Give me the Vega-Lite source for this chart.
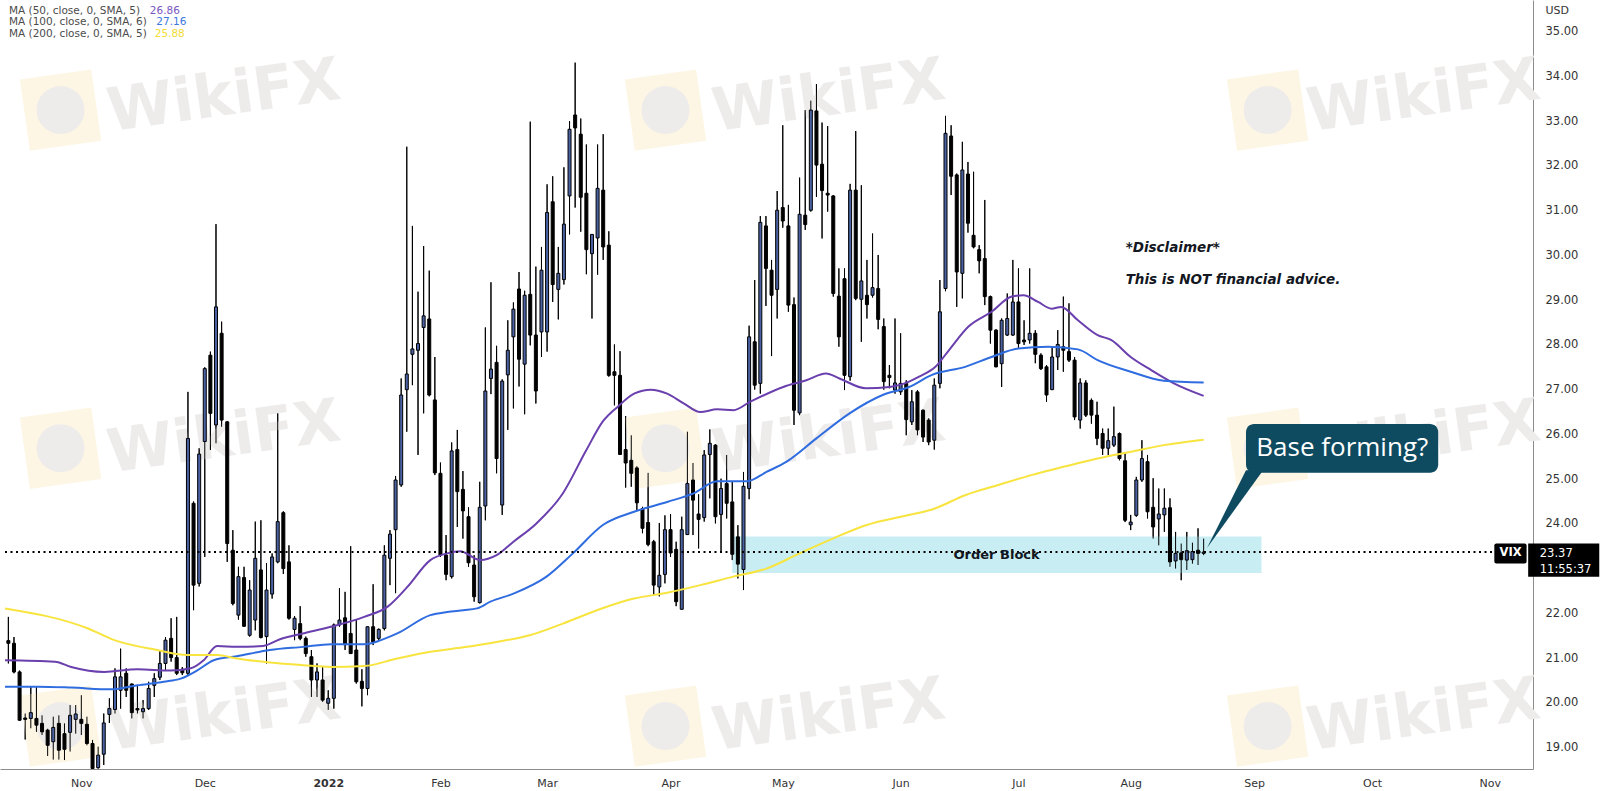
{
"$schema":"https://vega.github.io/schema/vega-lite/v6.json",
"width":1533,"height":769,
"autosize":{"type":"none"},
"padding":{"left":0,"top":0,"right":72,"bottom":22},
"background":"#ffffff",
"config":{"view":{"stroke":null},"font":"DejaVu Sans"},
"datasets":{
"candles":[
{"i":-13,"o":21.39,"h":21.92,"l":20.88,"c":21.33},
{"i":-12,"o":21.33,"h":21.47,"l":20.66,"c":20.69},
{"i":-11,"o":20.69,"h":20.72,"l":19.60,"c":19.61},
{"i":-10,"o":19.66,"h":19.76,"l":19.18,"c":19.63},
{"i":-9,"o":19.65,"h":20.36,"l":19.43,"c":19.78},
{"i":-8,"o":19.65,"h":20.36,"l":19.35,"c":19.50},
{"i":-7,"o":19.54,"h":19.72,"l":19.28,"c":19.35},
{"i":-6,"o":19.39,"h":19.42,"l":18.81,"c":19.05},
{"i":-5,"o":19.13,"h":19.69,"l":18.73,"c":19.45},
{"i":-4,"o":19.54,"h":19.72,"l":18.73,"c":18.94},
{"i":-3,"o":19.31,"h":19.54,"l":18.72,"c":18.96},
{"i":-2,"o":19.34,"h":19.95,"l":18.91,"c":19.72},
{"i":-1,"o":19.63,"h":19.95,"l":19.31,"c":19.75},
{"i":0,"o":19.63,"h":20.17,"l":19.28,"c":19.54},
{"i":1,"o":19.52,"h":19.69,"l":19.05,"c":19.09},
{"i":2,"o":19.09,"h":19.17,"l":18.50,"c":18.53},
{"i":3,"o":18.55,"h":19.02,"l":18.53,"c":18.83},
{"i":4,"o":18.85,"h":19.76,"l":18.61,"c":19.55},
{"i":5,"o":19.74,"h":20.10,"l":19.55,"c":19.87},
{"i":6,"o":19.85,"h":20.77,"l":19.76,"c":20.58},
{"i":7,"o":20.28,"h":21.21,"l":19.87,"c":20.58},
{"i":8,"o":20.66,"h":20.77,"l":20.13,"c":20.28},
{"i":9,"o":20.42,"h":20.43,"l":19.65,"c":19.78},
{"i":10,"o":19.87,"h":20.40,"l":19.76,"c":19.84},
{"i":11,"o":19.80,"h":20.06,"l":19.65,"c":19.87},
{"i":12,"o":19.87,"h":20.47,"l":19.84,"c":20.32},
{"i":13,"o":20.39,"h":20.66,"l":20.13,"c":20.54},
{"i":14,"o":20.57,"h":21.18,"l":20.51,"c":20.88},
{"i":15,"o":20.88,"h":21.47,"l":20.72,"c":21.40},
{"i":16,"o":21.44,"h":21.89,"l":20.92,"c":21.01},
{"i":17,"o":21.01,"h":21.92,"l":20.62,"c":20.66},
{"i":18,"o":20.75,"h":20.80,"l":20.62,"c":20.67},
{"i":19,"o":20.66,"h":26.95,"l":20.62,"c":25.91},
{"i":20,"o":24.46,"h":24.50,"l":22.07,"c":22.63},
{"i":21,"o":22.67,"h":25.69,"l":22.60,"c":25.56},
{"i":22,"o":25.84,"h":27.50,"l":23.26,"c":27.47},
{"i":23,"o":27.77,"h":27.85,"l":25.65,"c":26.47},
{"i":24,"o":26.21,"h":30.70,"l":25.80,"c":28.85},
{"i":25,"o":28.26,"h":28.52,"l":26.17,"c":26.32},
{"i":26,"o":26.28,"h":26.30,"l":23.15,"c":23.56},
{"i":27,"o":23.41,"h":23.86,"l":22.18,"c":22.22},
{"i":28,"o":21.96,"h":23.04,"l":21.86,"c":22.82},
{"i":29,"o":22.80,"h":23.04,"l":21.70,"c":21.71},
{"i":30,"o":21.51,"h":22.74,"l":21.48,"c":22.52},
{"i":31,"o":21.85,"h":24.05,"l":21.62,"c":23.23},
{"i":32,"o":22.97,"h":24.08,"l":21.44,"c":21.46},
{"i":33,"o":21.48,"h":23.12,"l":20.88,"c":22.52},
{"i":34,"o":22.43,"h":23.34,"l":22.33,"c":23.26},
{"i":35,"o":23.15,"h":26.47,"l":23.12,"c":24.05},
{"i":36,"o":24.25,"h":24.28,"l":22.88,"c":23.00},
{"i":37,"o":23.15,"h":23.52,"l":21.86,"c":21.89},
{"i":38,"o":21.64,"h":21.94,"l":21.40,"c":21.89},
{"i":39,"o":21.77,"h":22.16,"l":21.40,"c":21.44},
{"i":40,"o":21.44,"h":21.48,"l":21.03,"c":21.10},
{"i":41,"o":21.03,"h":21.18,"l":20.13,"c":20.51},
{"i":42,"o":20.51,"h":20.88,"l":20.13,"c":20.69},
{"i":43,"o":20.51,"h":20.80,"l":20.02,"c":20.06},
{"i":44,"o":19.99,"h":20.28,"l":19.84,"c":20.10},
{"i":45,"o":20.10,"h":21.77,"l":19.87,"c":21.74},
{"i":46,"o":21.74,"h":22.56,"l":21.70,"c":21.85},
{"i":47,"o":21.90,"h":22.48,"l":21.18,"c":21.30},
{"i":48,"o":21.55,"h":23.50,"l":21.10,"c":21.10},
{"i":49,"o":21.18,"h":21.85,"l":20.43,"c":20.47},
{"i":50,"o":20.48,"h":20.75,"l":19.92,"c":20.32},
{"i":51,"o":20.32,"h":21.70,"l":20.17,"c":21.70},
{"i":52,"o":21.70,"h":22.65,"l":21.29,"c":21.36},
{"i":53,"o":21.44,"h":21.66,"l":21.40,"c":21.64},
{"i":54,"o":21.66,"h":23.52,"l":21.62,"c":23.30},
{"i":55,"o":23.23,"h":23.86,"l":22.63,"c":23.77},
{"i":56,"o":23.87,"h":25.07,"l":22.45,"c":24.98},
{"i":57,"o":24.87,"h":27.25,"l":24.83,"c":26.88},
{"i":58,"o":27.00,"h":32.43,"l":26.06,"c":27.35},
{"i":59,"o":27.79,"h":30.66,"l":27.10,"c":27.91},
{"i":60,"o":27.88,"h":29.19,"l":25.54,"c":28.03},
{"i":61,"o":28.39,"h":30.21,"l":26.47,"c":28.65},
{"i":62,"o":28.58,"h":29.66,"l":26.85,"c":26.88},
{"i":63,"o":26.77,"h":27.73,"l":25.09,"c":25.14},
{"i":64,"o":25.13,"h":25.37,"l":23.26,"c":23.30},
{"i":65,"o":23.30,"h":23.75,"l":22.74,"c":22.87},
{"i":66,"o":22.82,"h":25.82,"l":22.78,"c":25.63},
{"i":67,"o":25.66,"h":26.10,"l":23.93,"c":24.72},
{"i":68,"o":24.77,"h":25.18,"l":23.67,"c":24.29},
{"i":69,"o":24.16,"h":24.37,"l":23.04,"c":23.13},
{"i":70,"o":23.08,"h":23.30,"l":22.26,"c":22.37},
{"i":71,"o":22.24,"h":24.94,"l":22.22,"c":24.37},
{"i":72,"o":24.40,"h":28.39,"l":24.08,"c":26.97},
{"i":73,"o":27.25,"h":29.40,"l":26.90,"c":27.46},
{"i":74,"o":27.61,"h":27.98,"l":25.13,"c":25.46},
{"i":75,"o":24.42,"h":27.23,"l":24.20,"c":27.19},
{"i":76,"o":27.33,"h":28.55,"l":26.10,"c":27.88},
{"i":77,"o":28.18,"h":28.95,"l":26.58,"c":28.80},
{"i":78,"o":29.25,"h":29.63,"l":27.07,"c":27.68},
{"i":79,"o":27.57,"h":29.21,"l":26.45,"c":29.11},
{"i":80,"o":29.13,"h":32.99,"l":27.99,"c":28.22},
{"i":81,"o":28.22,"h":29.75,"l":26.69,"c":26.97},
{"i":82,"o":28.29,"h":30.19,"l":27.73,"c":29.67},
{"i":83,"o":28.29,"h":31.59,"l":27.85,"c":30.96},
{"i":84,"o":31.20,"h":31.77,"l":28.96,"c":29.35},
{"i":85,"o":29.24,"h":30.19,"l":28.57,"c":29.60},
{"i":86,"o":29.46,"h":31.97,"l":29.35,"c":30.70},
{"i":87,"o":31.33,"h":33.00,"l":30.47,"c":32.82},
{"i":88,"o":33.14,"h":34.31,"l":31.07,"c":32.85},
{"i":89,"o":32.71,"h":33.06,"l":30.53,"c":31.30},
{"i":90,"o":31.39,"h":32.48,"l":29.58,"c":30.13},
{"i":91,"o":30.04,"h":30.47,"l":28.59,"c":30.47},
{"i":92,"o":30.39,"h":32.48,"l":29.57,"c":31.50},
{"i":93,"o":31.46,"h":32.71,"l":29.90,"c":30.19},
{"i":94,"o":30.23,"h":30.54,"l":27.29,"c":27.32},
{"i":95,"o":27.40,"h":28.01,"l":26.65,"c":27.32},
{"i":96,"o":27.32,"h":27.86,"l":25.55,"c":25.55},
{"i":97,"o":25.66,"h":26.41,"l":24.81,"c":25.36},
{"i":98,"o":25.42,"h":25.98,"l":24.83,"c":25.13},
{"i":99,"o":25.25,"h":25.29,"l":24.31,"c":24.47},
{"i":100,"o":24.34,"h":24.38,"l":23.79,"c":23.90},
{"i":101,"o":24.03,"h":25.14,"l":23.50,"c":23.54},
{"i":102,"o":23.60,"h":23.64,"l":22.41,"c":22.63},
{"i":103,"o":22.59,"h":24.02,"l":22.38,"c":22.85},
{"i":104,"o":22.87,"h":24.19,"l":22.67,"c":23.87},
{"i":105,"o":23.87,"h":24.22,"l":23.26,"c":23.35},
{"i":106,"o":23.43,"h":23.60,"l":22.16,"c":22.26},
{"i":107,"o":22.09,"h":24.16,"l":22.09,"c":23.87},
{"i":108,"o":23.76,"h":26.06,"l":23.76,"c":24.90},
{"i":109,"o":24.98,"h":25.36,"l":23.75,"c":24.53},
{"i":110,"o":24.22,"h":24.66,"l":23.45,"c":24.10},
{"i":111,"o":24.14,"h":25.65,"l":24.05,"c":25.54},
{"i":112,"o":25.55,"h":26.11,"l":24.57,"c":25.80},
{"i":113,"o":25.76,"h":25.78,"l":24.01,"c":24.16},
{"i":114,"o":24.21,"h":25.01,"l":23.39,"c":24.79},
{"i":115,"o":24.90,"h":25.54,"l":24.12,"c":24.46},
{"i":116,"o":24.49,"h":24.94,"l":23.19,"c":23.32},
{"i":117,"o":23.71,"h":23.97,"l":22.78,"c":23.10},
{"i":118,"o":22.98,"h":25.16,"l":22.52,"c":24.84},
{"i":119,"o":24.79,"h":28.43,"l":24.55,"c":28.18},
{"i":120,"o":28.07,"h":29.45,"l":27.00,"c":27.10},
{"i":121,"o":27.14,"h":30.88,"l":26.91,"c":30.74},
{"i":122,"o":30.66,"h":30.88,"l":28.87,"c":29.71},
{"i":123,"o":29.67,"h":29.90,"l":27.75,"c":29.11},
{"i":124,"o":29.24,"h":31.44,"l":28.59,"c":31.01},
{"i":125,"o":31.07,"h":32.91,"l":30.62,"c":30.77},
{"i":126,"o":30.66,"h":31.13,"l":28.74,"c":28.89},
{"i":127,"o":28.90,"h":29.06,"l":26.21,"c":26.54},
{"i":128,"o":26.48,"h":31.74,"l":26.43,"c":30.92},
{"i":129,"o":30.90,"h":33.25,"l":30.57,"c":30.69},
{"i":130,"o":31.01,"h":33.46,"l":30.98,"c":33.25},
{"i":131,"o":33.23,"h":33.83,"l":31.31,"c":32.02},
{"i":132,"o":32.04,"h":32.97,"l":30.38,"c":31.45},
{"i":133,"o":31.39,"h":32.89,"l":30.98,"c":31.35},
{"i":134,"o":31.33,"h":31.35,"l":29.08,"c":29.15},
{"i":135,"o":29.09,"h":29.71,"l":27.96,"c":28.18},
{"i":136,"o":29.48,"h":29.71,"l":26.99,"c":27.32},
{"i":137,"o":27.29,"h":31.60,"l":27.20,"c":31.46},
{"i":138,"o":31.46,"h":32.78,"l":29.00,"c":29.04},
{"i":139,"o":29.02,"h":31.57,"l":28.07,"c":29.43},
{"i":140,"o":29.11,"h":29.90,"l":28.59,"c":28.90},
{"i":141,"o":29.11,"h":30.49,"l":29.06,"c":29.28},
{"i":142,"o":29.26,"h":30.01,"l":28.35,"c":28.57},
{"i":143,"o":28.41,"h":28.59,"l":27.00,"c":27.18},
{"i":144,"o":27.32,"h":27.55,"l":27.03,"c":27.27},
{"i":145,"o":26.99,"h":28.59,"l":26.91,"c":27.15},
{"i":146,"o":26.95,"h":28.26,"l":26.88,"c":27.14},
{"i":147,"o":27.14,"h":27.21,"l":25.98,"c":26.33},
{"i":148,"o":26.28,"h":26.99,"l":26.21,"c":26.73},
{"i":149,"o":26.95,"h":26.99,"l":25.98,"c":26.10},
{"i":150,"o":26.54,"h":26.56,"l":25.83,"c":25.94},
{"i":151,"o":26.32,"h":26.36,"l":25.76,"c":25.83},
{"i":152,"o":25.87,"h":27.25,"l":25.66,"c":27.10},
{"i":153,"o":27.14,"h":29.45,"l":27.03,"c":28.74},
{"i":154,"o":29.26,"h":33.12,"l":29.20,"c":32.73},
{"i":155,"o":32.67,"h":32.91,"l":31.35,"c":31.77},
{"i":156,"o":31.80,"h":31.83,"l":28.85,"c":29.63},
{"i":157,"o":29.60,"h":32.54,"l":29.04,"c":31.91},
{"i":158,"o":31.82,"h":32.09,"l":30.51,"c":30.72},
{"i":159,"o":30.45,"h":31.87,"l":30.16,"c":30.19},
{"i":160,"o":30.13,"h":30.23,"l":29.60,"c":29.88},
{"i":161,"o":29.93,"h":31.24,"l":28.89,"c":29.08},
{"i":162,"o":29.08,"h":29.10,"l":28.03,"c":28.33},
{"i":163,"o":28.33,"h":28.35,"l":27.50,"c":27.51},
{"i":164,"o":27.58,"h":28.59,"l":27.06,"c":28.55},
{"i":165,"o":28.22,"h":29.15,"l":28.20,"c":28.59},
{"i":166,"o":28.22,"h":29.90,"l":28.20,"c":28.96},
{"i":167,"o":28.96,"h":29.71,"l":27.92,"c":28.03},
{"i":168,"o":28.11,"h":28.55,"l":28.00,"c":28.07},
{"i":169,"o":28.11,"h":29.71,"l":28.03,"c":28.26},
{"i":170,"o":28.26,"h":28.33,"l":27.59,"c":27.79},
{"i":171,"o":27.77,"h":27.81,"l":27.44,"c":27.47},
{"i":172,"o":27.51,"h":27.55,"l":26.73,"c":26.88},
{"i":173,"o":27.00,"h":27.96,"l":26.99,"c":27.73},
{"i":174,"o":27.73,"h":28.33,"l":27.44,"c":28.01},
{"i":175,"o":27.96,"h":29.08,"l":27.40,"c":27.88},
{"i":176,"o":27.85,"h":28.93,"l":27.62,"c":27.66},
{"i":177,"o":27.66,"h":27.73,"l":26.32,"c":26.39},
{"i":178,"o":26.32,"h":27.25,"l":26.13,"c":27.15},
{"i":179,"o":27.15,"h":27.21,"l":26.39,"c":26.43},
{"i":180,"o":26.76,"h":26.80,"l":26.24,"c":26.43},
{"i":181,"o":26.43,"h":26.73,"l":25.76,"c":25.91},
{"i":182,"o":26.02,"h":26.13,"l":25.54,"c":25.69},
{"i":183,"o":25.69,"h":26.13,"l":25.54,"c":25.86},
{"i":184,"o":25.76,"h":26.62,"l":25.72,"c":25.95},
{"i":185,"o":26.02,"h":26.04,"l":25.42,"c":25.46},
{"i":186,"o":25.41,"h":25.57,"l":24.04,"c":24.08},
{"i":187,"o":23.98,"h":24.20,"l":23.86,"c":24.04},
{"i":188,"o":24.19,"h":25.05,"l":24.16,"c":24.98},
{"i":189,"o":24.98,"h":25.87,"l":24.94,"c":25.46},
{"i":190,"o":25.39,"h":25.54,"l":24.12,"c":24.27},
{"i":191,"o":24.37,"h":25.02,"l":23.67,"c":23.93},
{"i":192,"o":24.11,"h":24.79,"l":23.52,"c":24.22},
{"i":193,"o":24.20,"h":24.79,"l":23.82,"c":24.35},
{"i":194,"o":24.36,"h":24.57,"l":23.04,"c":23.15},
{"i":195,"o":23.17,"h":23.82,"l":23.00,"c":23.34},
{"i":196,"o":23.35,"h":23.56,"l":22.74,"c":23.20},
{"i":197,"o":23.19,"h":23.82,"l":22.97,"c":23.40},
{"i":198,"o":23.20,"h":23.58,"l":23.11,"c":23.38},
{"i":199,"o":23.41,"h":23.90,"l":23.08,"c":23.34},
{"i":200,"o":23.34,"h":23.67,"l":23.30,"c":23.37}
],
"ma":[
{"ma":"MA50","i":-13.6,"v":20.95},{"ma":"MA50","i":-4.7,"v":20.92},{"ma":"MA50","i":-1.8,"v":20.80},{"ma":"MA50","i":4.1,"v":20.69},{"ma":"MA50","i":10.0,"v":20.75},{"ma":"MA50","i":15.9,"v":20.72},{"ma":"MA50","i":19.5,"v":20.77},{"ma":"MA50","i":21.8,"v":20.95},{"ma":"MA50","i":24.2,"v":21.27},{"ma":"MA50","i":27.7,"v":21.25},{"ma":"MA50","i":32.4,"v":21.27},{"ma":"MA50","i":35.4,"v":21.42},{"ma":"MA50","i":39.5,"v":21.55},{"ma":"MA50","i":44.5,"v":21.70},{"ma":"MA50","i":50.4,"v":21.92},{"ma":"MA50","i":54.6,"v":22.15},{"ma":"MA50","i":58.1,"v":22.59},{"ma":"MA50","i":62.2,"v":23.19},{"ma":"MA50","i":65.2,"v":23.34},{"ma":"MA50","i":67.5,"v":23.39},{"ma":"MA50","i":71.1,"v":23.19},{"ma":"MA50","i":74.0,"v":23.30},{"ma":"MA50","i":77.0,"v":23.60},{"ma":"MA50","i":81.1,"v":24.01},{"ma":"MA50","i":85.8,"v":24.68},{"ma":"MA50","i":90.0,"v":25.65},{"ma":"MA50","i":93.0,"v":26.30},{"ma":"MA50","i":95.6,"v":26.62},{"ma":"MA50","i":98.5,"v":26.91},{"ma":"MA50","i":101.5,"v":27.00},{"ma":"MA50","i":104.4,"v":26.91},{"ma":"MA50","i":107.4,"v":26.69},{"ma":"MA50","i":110.3,"v":26.50},{"ma":"MA50","i":113.3,"v":26.56},{"ma":"MA50","i":116.2,"v":26.54},{"ma":"MA50","i":119.2,"v":26.73},{"ma":"MA50","i":125.1,"v":27.06},{"ma":"MA50","i":129.2,"v":27.21},{"ma":"MA50","i":132.7,"v":27.36},{"ma":"MA50","i":135.1,"v":27.25},{"ma":"MA50","i":139.8,"v":27.03},{"ma":"MA50","i":144.0,"v":27.06},{"ma":"MA50","i":147.5,"v":27.18},{"ma":"MA50","i":149.3,"v":27.29},{"ma":"MA50","i":152.2,"v":27.51},{"ma":"MA50","i":154.6,"v":27.88},{"ma":"MA50","i":158.1,"v":28.41},{"ma":"MA50","i":162.2,"v":28.74},{"ma":"MA50","i":165.8,"v":29.08},{"ma":"MA50","i":167.9,"v":29.11},{"ma":"MA50","i":170.5,"v":28.96},{"ma":"MA50","i":172.9,"v":28.81},{"ma":"MA50","i":174.6,"v":28.85},{"ma":"MA50","i":177.6,"v":28.55},{"ma":"MA50","i":181.1,"v":28.22},{"ma":"MA50","i":183.5,"v":28.11},{"ma":"MA50","i":187.0,"v":27.73},{"ma":"MA50","i":190.6,"v":27.44},{"ma":"MA50","i":194.7,"v":27.14},{"ma":"MA50","i":200.0,"v":26.86},
{"ma":"MA100","i":-13.6,"v":20.36},{"ma":"MA100","i":-7.7,"v":20.36},{"ma":"MA100","i":-1.8,"v":20.34},{"ma":"MA100","i":5.3,"v":20.30},{"ma":"MA100","i":10.0,"v":20.39},{"ma":"MA100","i":14.7,"v":20.47},{"ma":"MA100","i":17.7,"v":20.54},{"ma":"MA100","i":20.6,"v":20.72},{"ma":"MA100","i":23.6,"v":20.95},{"ma":"MA100","i":27.7,"v":21.04},{"ma":"MA100","i":33.6,"v":21.18},{"ma":"MA100","i":39.5,"v":21.25},{"ma":"MA100","i":44.5,"v":21.31},{"ma":"MA100","i":50.4,"v":21.31},{"ma":"MA100","i":53.4,"v":21.40},{"ma":"MA100","i":56.3,"v":21.55},{"ma":"MA100","i":62.2,"v":21.96},{"ma":"MA100","i":65.2,"v":22.03},{"ma":"MA100","i":68.1,"v":22.07},{"ma":"MA100","i":70.5,"v":22.11},{"ma":"MA100","i":72.9,"v":22.26},{"ma":"MA100","i":77.0,"v":22.44},{"ma":"MA100","i":82.9,"v":22.82},{"ma":"MA100","i":87.6,"v":23.34},{"ma":"MA100","i":93.0,"v":23.98},{"ma":"MA100","i":98.5,"v":24.27},{"ma":"MA100","i":104.4,"v":24.49},{"ma":"MA100","i":109.1,"v":24.68},{"ma":"MA100","i":113.3,"v":24.95},{"ma":"MA100","i":118.6,"v":24.95},{"ma":"MA100","i":122.1,"v":25.16},{"ma":"MA100","i":125.7,"v":25.39},{"ma":"MA100","i":131.0,"v":25.91},{"ma":"MA100","i":136.9,"v":26.47},{"ma":"MA100","i":142.8,"v":26.88},{"ma":"MA100","i":147.5,"v":27.06},{"ma":"MA100","i":151.6,"v":27.33},{"ma":"MA100","i":157.5,"v":27.51},{"ma":"MA100","i":162.2,"v":27.73},{"ma":"MA100","i":167.0,"v":27.92},{"ma":"MA100","i":172.3,"v":27.96},{"ma":"MA100","i":177.6,"v":27.90},{"ma":"MA100","i":181.1,"v":27.66},{"ma":"MA100","i":187.0,"v":27.40},{"ma":"MA100","i":192.9,"v":27.20},{"ma":"MA100","i":200.0,"v":27.16},
{"ma":"MA200","i":-13.6,"v":22.11},{"ma":"MA200","i":1.2,"v":21.66},{"ma":"MA200","i":5.9,"v":21.40},{"ma":"MA200","i":13.5,"v":21.18},{"ma":"MA200","i":18.9,"v":21.07},{"ma":"MA200","i":24.2,"v":21.07},{"ma":"MA200","i":27.7,"v":20.99},{"ma":"MA200","i":33.6,"v":20.90},{"ma":"MA200","i":39.5,"v":20.84},{"ma":"MA200","i":44.5,"v":20.80},{"ma":"MA200","i":50.4,"v":20.82},{"ma":"MA200","i":56.3,"v":20.99},{"ma":"MA200","i":62.2,"v":21.14},{"ma":"MA200","i":68.1,"v":21.24},{"ma":"MA200","i":74.0,"v":21.36},{"ma":"MA200","i":79.9,"v":21.51},{"ma":"MA200","i":85.8,"v":21.77},{"ma":"MA200","i":93.0,"v":22.12},{"ma":"MA200","i":98.5,"v":22.33},{"ma":"MA200","i":104.4,"v":22.46},{"ma":"MA200","i":110.3,"v":22.63},{"ma":"MA200","i":116.2,"v":22.82},{"ma":"MA200","i":122.1,"v":23.00},{"ma":"MA200","i":128.0,"v":23.34},{"ma":"MA200","i":133.9,"v":23.67},{"ma":"MA200","i":139.8,"v":23.97},{"ma":"MA200","i":147.5,"v":24.20},{"ma":"MA200","i":151.6,"v":24.32},{"ma":"MA200","i":157.5,"v":24.64},{"ma":"MA200","i":163.4,"v":24.87},{"ma":"MA200","i":169.3,"v":25.09},{"ma":"MA200","i":175.2,"v":25.28},{"ma":"MA200","i":181.1,"v":25.46},{"ma":"MA200","i":187.0,"v":25.61},{"ma":"MA200","i":192.9,"v":25.76},{"ma":"MA200","i":200.0,"v":25.88}
],
"pointer":[{"p":25.2,"xa":207.55,"xb":210.6},{"p":23.46,"xa":200.6,"xb":200.6}]
},
"layer":[
{"data":{"name":"candles"},
 "mark":{"type":"rule","color":"#000000","strokeWidth":1,"clip":true},
 "encoding":{
  "x":{"field":"i","type":"quantitative","scale":{"domain":[-13.6,257.8],"nice":false,"zero":false},
   "axis":{"orient":"bottom","title":null,"values":[0,22,44,64,83,105,125,146,167,187,209,230,251],
    "labelExpr":"['Nov','Dec','2022','Feb','Mar','Apr','May','Jun','Jul','Aug','Sep','Oct','Nov'][indexof([0,22,44,64,83,105,125,146,167,187,209,230,251], datum.value)]",
    "grid":false,"ticks":false,"tickSize":0,"domain":true,"domainColor":"#8c8c8c","domainWidth":1,
    "labelFont":"DejaVu Sans","labelFontSize":11,"labelColor":"#333333","labelPadding":8,
    "labelFlush":false,"labelOverlap":false,"labelBound":false,
    "labelFontWeight":{"condition":{"test":"datum.value == 44","value":"bold"},"value":"normal"}}},
  "y":{"field":"l","type":"quantitative","scale":{"domain":[18.52,35.71],"nice":false,"zero":false},
   "axis":{"orient":"right","values":[19,20,21,22,24,25,26,27,28,29,30,31,32,33,34,35],"format":".2f",
    "grid":false,"ticks":false,"tickSize":0,"domain":true,"domainColor":"#8c8c8c","domainWidth":1,
    "labelFont":"DejaVu Sans","labelFontSize":11.5,"labelColor":"#333333","labelPadding":12,"labelOverlap":false,"labelFlush":false,
    "title":"USD","titleAngle":0,"titleAlign":"left","titleBaseline":"top","titleX":12,"titleY":4,
    "titleFont":"DejaVu Sans","titleFontSize":11,"titleFontWeight":"normal","titleColor":"#333333"}},
  "y2":{"field":"h"}}},
{"data":{"values":[{}]},"mark":{"type":"point","shape":"square","filled":true,"size":5184,"color":"#fdf6e4","opacity":1,"angle":-8},"encoding":{"x":{"datum":-3.7,"type":"quantitative"},"y":{"datum":33.25,"type":"quantitative"}}},
{"data":{"values":[{}]},"mark":{"type":"point","shape":"square","filled":true,"size":5184,"color":"#fdf6e4","opacity":1,"angle":-8},"encoding":{"x":{"datum":104.1,"type":"quantitative"},"y":{"datum":33.25,"type":"quantitative"}}},
{"data":{"values":[{}]},"mark":{"type":"point","shape":"square","filled":true,"size":5184,"color":"#fdf6e4","opacity":1,"angle":-8},"encoding":{"x":{"datum":211.4,"type":"quantitative"},"y":{"datum":33.25,"type":"quantitative"}}},
{"data":{"values":[{}]},"mark":{"type":"point","shape":"square","filled":true,"size":5184,"color":"#fdf6e4","opacity":1,"angle":-8},"encoding":{"x":{"datum":-3.7,"type":"quantitative"},"y":{"datum":25.69,"type":"quantitative"}}},
{"data":{"values":[{}]},"mark":{"type":"point","shape":"square","filled":true,"size":5184,"color":"#fdf6e4","opacity":1,"angle":-8},"encoding":{"x":{"datum":104.1,"type":"quantitative"},"y":{"datum":25.69,"type":"quantitative"}}},
{"data":{"values":[{}]},"mark":{"type":"point","shape":"square","filled":true,"size":5184,"color":"#fdf6e4","opacity":1,"angle":-8},"encoding":{"x":{"datum":211.4,"type":"quantitative"},"y":{"datum":25.69,"type":"quantitative"}}},
{"data":{"values":[{}]},"mark":{"type":"point","shape":"square","filled":true,"size":5184,"color":"#fdf6e4","opacity":1,"angle":-8},"encoding":{"x":{"datum":-3.7,"type":"quantitative"},"y":{"datum":19.48,"type":"quantitative"}}},
{"data":{"values":[{}]},"mark":{"type":"point","shape":"square","filled":true,"size":5184,"color":"#fdf6e4","opacity":1,"angle":-8},"encoding":{"x":{"datum":104.1,"type":"quantitative"},"y":{"datum":19.48,"type":"quantitative"}}},
{"data":{"values":[{}]},"mark":{"type":"point","shape":"square","filled":true,"size":5184,"color":"#fdf6e4","opacity":1,"angle":-8},"encoding":{"x":{"datum":211.4,"type":"quantitative"},"y":{"datum":19.48,"type":"quantitative"}}},
{"data":{"values":[{}]},"mark":{"type":"point","shape":"circle","filled":true,"size":2300,"color":"#eeebeb","opacity":1},"encoding":{"x":{"datum":-3.7,"type":"quantitative"},"y":{"datum":33.25,"type":"quantitative"}}},
{"data":{"values":[{}]},"mark":{"type":"point","shape":"circle","filled":true,"size":2300,"color":"#eeebeb","opacity":1},"encoding":{"x":{"datum":104.1,"type":"quantitative"},"y":{"datum":33.25,"type":"quantitative"}}},
{"data":{"values":[{}]},"mark":{"type":"point","shape":"circle","filled":true,"size":2300,"color":"#eeebeb","opacity":1},"encoding":{"x":{"datum":211.4,"type":"quantitative"},"y":{"datum":33.25,"type":"quantitative"}}},
{"data":{"values":[{}]},"mark":{"type":"point","shape":"circle","filled":true,"size":2300,"color":"#eeebeb","opacity":1},"encoding":{"x":{"datum":-3.7,"type":"quantitative"},"y":{"datum":25.69,"type":"quantitative"}}},
{"data":{"values":[{}]},"mark":{"type":"point","shape":"circle","filled":true,"size":2300,"color":"#eeebeb","opacity":1},"encoding":{"x":{"datum":104.1,"type":"quantitative"},"y":{"datum":25.69,"type":"quantitative"}}},
{"data":{"values":[{}]},"mark":{"type":"point","shape":"circle","filled":true,"size":2300,"color":"#eeebeb","opacity":1},"encoding":{"x":{"datum":211.4,"type":"quantitative"},"y":{"datum":25.69,"type":"quantitative"}}},
{"data":{"values":[{}]},"mark":{"type":"point","shape":"circle","filled":true,"size":2300,"color":"#eeebeb","opacity":1},"encoding":{"x":{"datum":-3.7,"type":"quantitative"},"y":{"datum":19.48,"type":"quantitative"}}},
{"data":{"values":[{}]},"mark":{"type":"point","shape":"circle","filled":true,"size":2300,"color":"#eeebeb","opacity":1},"encoding":{"x":{"datum":104.1,"type":"quantitative"},"y":{"datum":19.48,"type":"quantitative"}}},
{"data":{"values":[{}]},"mark":{"type":"point","shape":"circle","filled":true,"size":2300,"color":"#eeebeb","opacity":1},"encoding":{"x":{"datum":211.4,"type":"quantitative"},"y":{"datum":19.48,"type":"quantitative"}}},
{"data":{"values":[{}]},"mark":{"type":"text","text":"WikiFX","font":"DejaVu Sans","fontSize":60,"fontWeight":"bold","color":"#eeebeb","angle":-8,"align":"center","baseline":"middle"},"encoding":{"x":{"datum":25.4,"type":"quantitative"},"y":{"datum":33.54,"type":"quantitative"}}},
{"data":{"values":[{}]},"mark":{"type":"text","text":"WikiFX","font":"DejaVu Sans","fontSize":60,"fontWeight":"bold","color":"#eeebeb","angle":-8,"align":"center","baseline":"middle"},"encoding":{"x":{"datum":133.2,"type":"quantitative"},"y":{"datum":33.54,"type":"quantitative"}}},
{"data":{"values":[{}]},"mark":{"type":"text","text":"WikiFX","font":"DejaVu Sans","fontSize":60,"fontWeight":"bold","color":"#eeebeb","angle":-8,"align":"center","baseline":"middle"},"encoding":{"x":{"datum":239.2,"type":"quantitative"},"y":{"datum":33.54,"type":"quantitative"}}},
{"data":{"values":[{}]},"mark":{"type":"text","text":"WikiFX","font":"DejaVu Sans","fontSize":60,"fontWeight":"bold","color":"#eeebeb","angle":-8,"align":"center","baseline":"middle"},"encoding":{"x":{"datum":25.4,"type":"quantitative"},"y":{"datum":25.91,"type":"quantitative"}}},
{"data":{"values":[{}]},"mark":{"type":"text","text":"WikiFX","font":"DejaVu Sans","fontSize":60,"fontWeight":"bold","color":"#eeebeb","angle":-8,"align":"center","baseline":"middle"},"encoding":{"x":{"datum":133.2,"type":"quantitative"},"y":{"datum":25.91,"type":"quantitative"}}},
{"data":{"values":[{}]},"mark":{"type":"text","text":"WikiFX","font":"DejaVu Sans","fontSize":60,"fontWeight":"bold","color":"#eeebeb","angle":-8,"align":"center","baseline":"middle"},"encoding":{"x":{"datum":239.2,"type":"quantitative"},"y":{"datum":25.91,"type":"quantitative"}}},
{"data":{"values":[{}]},"mark":{"type":"text","text":"WikiFX","font":"DejaVu Sans","fontSize":60,"fontWeight":"bold","color":"#eeebeb","angle":-8,"align":"center","baseline":"middle"},"encoding":{"x":{"datum":25.4,"type":"quantitative"},"y":{"datum":19.7,"type":"quantitative"}}},
{"data":{"values":[{}]},"mark":{"type":"text","text":"WikiFX","font":"DejaVu Sans","fontSize":60,"fontWeight":"bold","color":"#eeebeb","angle":-8,"align":"center","baseline":"middle"},"encoding":{"x":{"datum":133.2,"type":"quantitative"},"y":{"datum":19.7,"type":"quantitative"}}},
{"data":{"values":[{}]},"mark":{"type":"text","text":"WikiFX","font":"DejaVu Sans","fontSize":60,"fontWeight":"bold","color":"#eeebeb","angle":-8,"align":"center","baseline":"middle"},"encoding":{"x":{"datum":239.2,"type":"quantitative"},"y":{"datum":19.7,"type":"quantitative"}}},
{"data":{"values":[{}]},"mark":{"type":"rect","color":"#c8eef3"},"encoding":{"x":{"datum":116,"type":"quantitative"},"x2":{"datum":210.3},"y":{"datum":23.72,"type":"quantitative"},"y2":{"datum":22.90}}},
{"data":{"name":"candles"},
 "mark":{"type":"rule","color":"#000000","strokeWidth":1,"clip":true},
 "encoding":{"x":{"field":"i","type":"quantitative"},"y":{"field":"l","type":"quantitative"},"y2":{"field":"h"}}},
{"data":{"name":"candles"},
 "mark":{"type":"bar","size":3,"stroke":"#000000","strokeWidth":1,"clip":true},
 "encoding":{"x":{"field":"i","type":"quantitative"},"y":{"field":"o","type":"quantitative"},"y2":{"field":"c"},
  "fill":{"condition":{"test":"datum.c > datum.o","value":"#4a62a3"},"value":"#000000"}}},
{"data":{"name":"ma"},
 "mark":{"type":"line","strokeWidth":2,"clip":true,"interpolate":"monotone"},
 "encoding":{"x":{"field":"i","type":"quantitative"},"y":{"field":"v","type":"quantitative"},
  "color":{"field":"ma","type":"nominal","scale":{"domain":["MA50","MA100","MA200"],"range":["#6a3fae","#2f6ce0","#f8e43e"]},"legend":null}}},
{"data":{"values":[{}]},"mark":{"type":"rule","color":"#000000","strokeWidth":2,"strokeDash":[2,3.5]},"encoding":{"x":{"datum":-13.6,"type":"quantitative"},"x2":{"datum":251.8},"y":{"datum":23.37,"type":"quantitative"}}},
{"data":{"values":[{}]},"mark":{"type":"text","text":"Order Block","font":"DejaVu Sans","fontSize":13,"fontWeight":"bold","color":"#131722","align":"center","baseline":"middle"},"encoding":{"x":{"datum":163.1,"type":"quantitative"},"y":{"datum":23.3,"type":"quantitative"}}},
{"data":{"values":[{}]},"mark":{"type":"text","text":"*Disclaimer*","font":"DejaVu Sans","fontSize":13.5,"fontWeight":"bold","fontStyle":"italic","color":"#131722","align":"left","baseline":"middle"},"encoding":{"x":{"datum":186.1,"type":"quantitative"},"y":{"datum":30.16,"type":"quantitative"}}},
{"data":{"values":[{}]},"mark":{"type":"text","text":"This is NOT financial advice.","font":"DejaVu Sans","fontSize":13.5,"fontWeight":"bold","fontStyle":"italic","color":"#131722","align":"left","baseline":"middle"},"encoding":{"x":{"datum":186.1,"type":"quantitative"},"y":{"datum":29.45,"type":"quantitative"}}},
{"data":{"name":"pointer"},"mark":{"type":"area","orient":"horizontal","color":"#0e4a60"},"encoding":{"y":{"field":"p","type":"quantitative"},"x":{"field":"xa","type":"quantitative"},"x2":{"field":"xb"}}},
{"data":{"values":[{}]},"mark":{"type":"rect","color":"#0e4a60","cornerRadius":8},"encoding":{"x":{"datum":207.55,"type":"quantitative"},"x2":{"datum":241.8},"y":{"datum":26.23,"type":"quantitative"},"y2":{"datum":25.14}}},
{"data":{"values":[{}]},"mark":{"type":"text","text":"Base forming?","font":"Open Sans","fontSize":26,"color":"#ffffff","align":"center","baseline":"middle"},"encoding":{"x":{"datum":224.7,"type":"quantitative"},"y":{"datum":25.69,"type":"quantitative"}}},
{"data":{"values":[{}]},"mark":{"type":"text","text":"MA (50, close, 0, SMA, 5)","font":"DejaVu Sans","fontSize":10.5,"color":"#4c4c4c","align":"left","baseline":"middle"},"encoding":{"x":{"datum":-12.89,"type":"quantitative"},"y":{"datum":35.47,"type":"quantitative"}}},
{"data":{"values":[{}]},"mark":{"type":"text","text":"MA (100, close, 0, SMA, 6)","font":"DejaVu Sans","fontSize":10.5,"color":"#4c4c4c","align":"left","baseline":"middle"},"encoding":{"x":{"datum":-12.89,"type":"quantitative"},"y":{"datum":35.21,"type":"quantitative"}}},
{"data":{"values":[{}]},"mark":{"type":"text","text":"MA (200, close, 0, SMA, 5)","font":"DejaVu Sans","fontSize":10.5,"color":"#4c4c4c","align":"left","baseline":"middle"},"encoding":{"x":{"datum":-12.89,"type":"quantitative"},"y":{"datum":34.96,"type":"quantitative"}}},
{"data":{"values":[{}]},"mark":{"type":"text","text":"26.86","font":"DejaVu Sans","fontSize":10.5,"color":"#7b57c0","align":"left","baseline":"middle"},"encoding":{"x":{"datum":12.2,"type":"quantitative"},"y":{"datum":35.47,"type":"quantitative"}}},
{"data":{"values":[{}]},"mark":{"type":"text","text":"27.16","font":"DejaVu Sans","fontSize":10.5,"color":"#3a78e0","align":"left","baseline":"middle"},"encoding":{"x":{"datum":13.37,"type":"quantitative"},"y":{"datum":35.21,"type":"quantitative"}}},
{"data":{"values":[{}]},"mark":{"type":"text","text":"25.88","font":"DejaVu Sans","fontSize":10.5,"color":"#f2dc35","align":"left","baseline":"middle"},"encoding":{"x":{"datum":13.08,"type":"quantitative"},"y":{"datum":34.96,"type":"quantitative"}}},
{"data":{"values":[{}]},"mark":{"type":"rect","color":"#000000","cornerRadius":2},"encoding":{"x":{"datum":251.8,"type":"quantitative"},"x2":{"datum":257.55},"y":{"datum":23.563,"type":"quantitative"},"y2":{"datum":23.116}}},
{"data":{"values":[{}]},"mark":{"type":"text","text":"VIX","font":"DejaVu Sans","fontSize":11.5,"fontWeight":"bold","color":"#ffffff","align":"center","baseline":"middle"},"encoding":{"x":{"datum":254.7,"type":"quantitative"},"y":{"datum":23.34,"type":"quantitative"}}},
{"data":{"values":[{}]},"mark":{"type":"rect","color":"#000000"},"encoding":{"x":{"datum":257.83,"type":"quantitative"},"x2":{"datum":270.5},"y":{"datum":23.563,"type":"quantitative"},"y2":{"datum":22.816}}},
{"data":{"values":[{}]},"mark":{"type":"text","text":"23.37","font":"DejaVu Sans","fontSize":11.5,"color":"#ffffff","align":"left","baseline":"middle"},"encoding":{"x":{"datum":259.9,"type":"quantitative"},"y":{"datum":23.33,"type":"quantitative"}}},
{"data":{"values":[{}]},"mark":{"type":"text","text":"11:55:37","font":"DejaVu Sans","fontSize":11.5,"color":"#ffffff","align":"left","baseline":"middle"},"encoding":{"x":{"datum":259.9,"type":"quantitative"},"y":{"datum":22.97,"type":"quantitative"}}}
]
}
